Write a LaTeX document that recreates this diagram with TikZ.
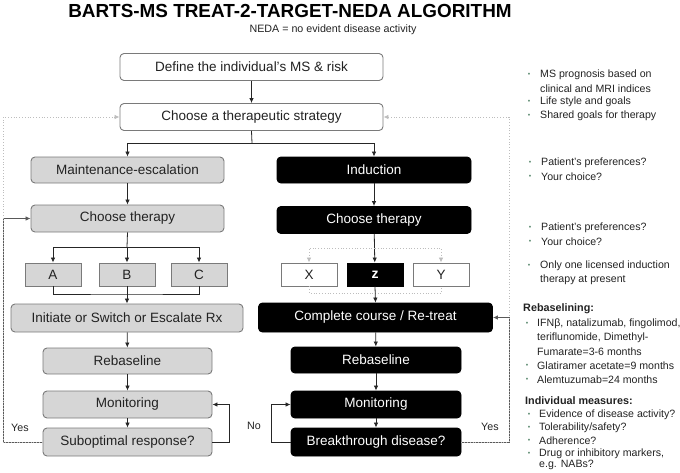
\documentclass[tikz,border=0pt]{standalone}
\usepackage{fontspec}
\setmainfont{Liberation Sans}
\usetikzlibrary{arrows.meta}
\definecolor{txt}{HTML}{222222}
\definecolor{bordg}{HTML}{7A7A7A}
\definecolor{fillg}{HTML}{D6D6D6}
\definecolor{dotc}{HTML}{BDBDBD}
\definecolor{bulc}{HTML}{5E8C72}
\tikzset{
  boxbase/.style={draw, rounded corners=4pt, inner sep=0pt, font=\fontsize{13.5}{16}\selectfont, line width=0.9pt},
  whitebox/.style={boxbase, fill=white, draw=bordg, text=txt},
  graybox/.style={boxbase, fill=fillg, draw=bordg, text=txt},
  blackbox/.style={boxbase, fill=black, draw=black, text=white},
  sqbox/.style={draw, inner sep=0pt, font=\fontsize{13.5}{16}\selectfont, line width=0.9pt, minimum height=23pt, minimum width=56pt},
  conn/.style={draw=black!85, line width=0.8pt, -{Latex[length=5pt,width=4.5pt]}},
  plain/.style={draw=black!85, line width=0.8pt},
  dotg/.style={draw=dotc, line width=0.8pt, dotted},
  dotgarr/.style={dotg, -{Latex[length=5pt,width=4.5pt]}},
  loopc/.style={draw=black!65, line width=0.8pt, -{Latex[length=5pt,width=4.5pt]}},
  lab/.style={font=\fontsize{10.7}{12}\selectfont, text=txt, inner sep=0pt},
  rt/.style={font=\fontsize{10.6}{12}\selectfont, text=txt, inner sep=0pt, anchor=west},
  rh/.style={font=\fontsize{10.8}{12}\bfseries\selectfont, text=txt, inner sep=0pt, anchor=west},
  bul/.style={font=\fontsize{7}{8}\selectfont, text=bulc, inner sep=0pt},
}
\begin{document}
\begin{tikzpicture}[x=1pt,y=-1pt]
\useasboundingbox (0,0) rectangle (680,472);
% title
\node[font=\fontsize{18.9}{22}\bfseries\selectfont, text=black, inner sep=0pt] (title) at (290,11) {BARTS-MS TREAT-2-TARGET-NEDA ALGORITHM};
\node[lab] (sub) at (333,30) {NEDA = no evident disease activity};
% top
\node[whitebox, minimum width=263pt, minimum height=27pt] (def) at (251.5,67) {Define the individual’s MS \& risk};
\node[whitebox, minimum width=263pt, minimum height=27pt] (strat) at (251.5,117) {Choose a therapeutic strategy};
% left column
\node[graybox, minimum width=193pt, minimum height=26pt] (maint) at (127.5,170) {Maintenance-escalation};
\node[graybox, minimum width=193pt, minimum height=27pt] (chl) at (127.5,218.5) {Choose therapy};
\node[sqbox, fill=fillg, draw=bordg, text=txt] (A) at (53,274.5) {A};
\node[sqbox, fill=fillg, draw=bordg, text=txt] (B) at (127,274.5) {B};
\node[sqbox, fill=fillg, draw=bordg, text=txt] (C) at (199,274.5) {C};
\node[graybox, minimum width=232pt, minimum height=28pt] (init) at (127,318) {Initiate or Switch or Escalate Rx};
\node[graybox, minimum width=169pt, minimum height=26pt] (rebl) at (127.5,361) {Rebaseline};
\node[graybox, minimum width=169pt, minimum height=27pt] (monl) at (127.5,404.5) {Monitoring};
\node[graybox, minimum width=169pt, minimum height=28pt] (subr) at (127.5,442) {Suboptimal response?};
% right column
\node[blackbox, minimum width=194pt, minimum height=26pt] (ind) at (374,170) {Induction};
\node[blackbox, minimum width=194pt, minimum height=27pt] (chr) at (374,220) {Choose therapy};
\node[sqbox, fill=white, draw=bordg, text=txt] (X) at (309,274.5) {X};
\node[sqbox, fill=black, draw=black, text=white, font=\fontsize{14}{16}\bfseries\selectfont] (Z) at (375,274.5) {z};
\node[sqbox, fill=white, draw=bordg, text=txt] (Y) at (441,274.5) {Y};
\node[blackbox, minimum width=234pt, minimum height=29pt] (comp) at (375.5,317.5) {Complete course / Re-treat};
\node[blackbox, minimum width=170pt, minimum height=26pt] (rebr) at (376,360) {Rebaseline};
\node[blackbox, minimum width=170pt, minimum height=27pt] (monr) at (376,404.5) {Monitoring};
\node[blackbox, minimum width=170pt, minimum height=28pt] (brk) at (376,442) {Breakthrough disease?};
% connectors top
\coordinate (sp) at (252,143);
\draw[conn] (def) -- (strat);
\draw[plain] (strat.south) -- (sp);
\draw[conn] (sp) -| (maint.north);
\draw[conn] (sp) -| (ind.north);
% left
\draw[conn] (maint) -- (chl);
\coordinate (bl) at (127,247);
\draw[plain] (chl.south) -- (bl);
\draw[conn] (bl) -| (A.north);
\draw[conn] (bl) -| (C.north);
\draw[conn] (bl) -- (B.north);
\coordinate (ml) at (127,294);
\draw[plain] (A.south) |- (ml) -| (C.south);
\draw[conn] (B.south) -- (init.north);
\draw[conn] (init) -- (rebl);
\draw[conn] (rebl) -- (monl);
\draw[conn] (monl) -- (subr);
\draw[conn] (subr.east) -- ++(17,0) |- (monl.east);
% right
\draw[conn] (ind) -- (chr);
\draw[conn] (chr) -- (Z);
\coordinate (xr) at (375,248);
\draw[dotgarr] (xr) -| (X.north);
\draw[dotgarr] (xr) -| (Y.north);
\coordinate (mr) at (375,293);
\draw[dotg] (X.south) |- (mr) -| (Y.south);
\draw[conn] (Z.south) -- (comp.north);
\draw[conn] (comp) -- (rebr);
\draw[conn] (rebr) -- (monr);
\draw[conn] (monr) -- (brk);
\draw[conn] (brk.west) -- ++(-19,0) |- (monr.west);
% yes loops
\coordinate (lc) at (3,442);
\coordinate (rc) at (509,442);
\draw[loopc] (subr.west) -- (lc) |- (chl.west);
\draw[loopc] (brk.east) -- (rc) |- (comp.east);
\draw[dotgarr] (subr.west) -- (lc) |- (strat.west);
\draw[dotgarr] (brk.east) -- (rc) |- (strat.east);
\node[lab, anchor=west] (yl) at (11,428) {Yes};
\node[lab, anchor=west] (nl) at (247,426) {No};
\node[lab, anchor=west] (yr) at (481,427) {Yes};
% right text
\node[bul] (b1) at (529,75) {•};
\node[rt] (t1) at (540,75) {MS prognosis based on};
\node[rt] (t1b) at (540,89) {clinical and MRI indices};
\node[bul] (b2) at (529,102) {•};
\node[rt] (t2) at (540,102) {Life style and goals};
\node[bul] (b3) at (529,116) {•};
\node[rt] (t3) at (540,116) {Shared goals for therapy};
\node[bul] (b4) at (530,163) {•};
\node[rt] (t4) at (541,163) {Patient’s preferences?};
\node[bul] (b5) at (530,177) {•};
\node[rt] (t5) at (541,177) {Your choice?};
\node[bul] (b6) at (530,228) {•};
\node[rt] (t6) at (541,228) {Patient’s preferences?};
\node[bul] (b7) at (530,242) {•};
\node[rt] (t7) at (541,242) {Your choice?};
\node[bul] (b8) at (529,266) {•};
\node[rt] (t8) at (540,266) {Only one licensed induction};
\node[rt] (t8b) at (540,280) {therapy at present};
\node[rh] (h1) at (523,309) {Rebaselining:};
\node[bul] (b9) at (527,324) {•};
\node[rt] (t9) at (537,324) {IFNβ, natalizumab, fingolimod,};
\node[rt] (t9b) at (537,338) {teriflunomide, Dimethyl-};
\node[rt] (t9c) at (537,352) {Fumarate=3-6 months};
\node[bul] (b10) at (527,366) {•};
\node[rt] (t10) at (537,366) {Glatiramer acetate=9 months};
\node[bul] (b11) at (527,380) {•};
\node[rt] (t11) at (537,380) {Alemtuzumab=24 months};
\node[rh] (h2) at (525,401) {Individual measures:};
\node[bul] (b12) at (529,415) {•};
\node[rt] (t12) at (539,415) {Evidence of disease activity?};
\node[bul] (b13) at (529,428) {•};
\node[rt] (t13) at (539,428) {Tolerability/safety?};
\node[bul] (b14) at (529,441) {•};
\node[rt] (t14) at (539,441) {Adherence?};
\node[bul] (b15) at (529,454) {•};
\node[rt] (t15) at (539,454) {Drug or inhibitory markers,};
\node[rt] (t15b) at (539,465) {e.g. NABs?};
\end{tikzpicture}
\end{document}
